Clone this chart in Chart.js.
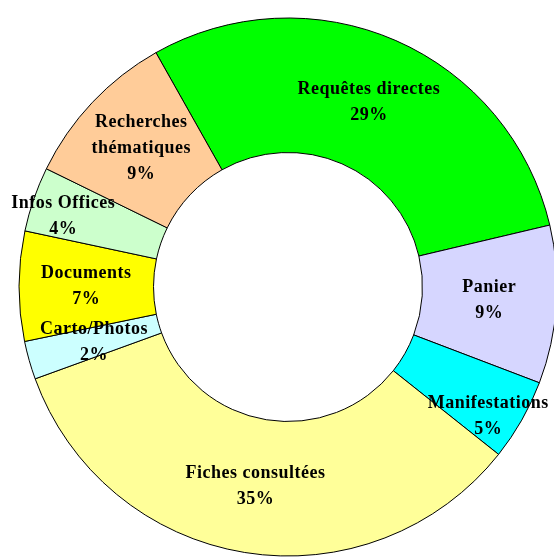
<!DOCTYPE html>
<html>
<head>
<meta charset="utf-8">
<script src="https://cdn.jsdelivr.net/npm/chart.js@4/dist/chart.umd.min.js"></script>
<style>
html,body{margin:0;padding:0;background:#fff;}
#wrap{width:554px;height:558px;position:relative;}
</style>
</head>
<body>
<div id="wrap"><canvas id="myChart"></canvas></div>
<script>
// categories, clockwise from the top
var categories=["Requêtes directes","Panier","Manifestations","Fiches consultées","Carto/Photos","Documents","Infos Offices","Recherches thématiques"];
// share of each slice
var shares=[29.5,9.5,4.9,33.8,2.3,6.6,3.9,9.6];
// percentages as printed on the chart
var percentText=["29%","9%","5%","35%","2%","7%","4%","9%"];
var sliceColors=["#00ff00","#d6d6ff","#00ffff","#ffff99","#ccffff","#ffff00","#ccffcc","#ffcc99"];

// name lines: long names break on two lines
function nameLines(name){
    if(name==="Recherches thématiques") return ["Recherches","thématiques"];
    return [name];
}

var sliceLabels={
    id:"sliceLabels",
    afterDatasetsDraw:function(chart,args,opts){
        var ctx=chart.ctx;
        var meta=chart.getDatasetMeta(0);
        ctx.save();
        ctx.font="bold 18px 'Liberation Serif', 'Times New Roman', serif";
        ctx.letterSpacing="0.5px";
        ctx.fillStyle="#000";
        ctx.textAlign="center";
        ctx.textBaseline="middle";
        meta.data.forEach(function(arc,i){
            var p=arc.getProps(["x","y","startAngle","endAngle","innerRadius","outerRadius"],true);
            var mid=(p.startAngle+p.endAngle)/2;
            var r=(p.innerRadius+p.outerRadius)/2;
            var off=opts.offsets[i]||[0,0];
            var cx=p.x+Math.cos(mid)*r+off[0];
            var cy=p.y+Math.sin(mid)*r+off[1];
            var lines=nameLines(categories[i]).concat([percentText[i]]);
            var lh=26;
            var top=cy-(lines.length-1)*lh/2;
            lines.forEach(function(t,k){
                ctx.fillText(t,cx,top+k*lh);
            });
        });
        ctx.restore();
    }
};

var ctx=document.getElementById("myChart").getContext("2d");
var myChart=new Chart(ctx,{
    type:"doughnut",
    data:{
        labels:categories,
        datasets:[
            {
                data:shares,
                backgroundColor:sliceColors,
                borderColor:"#000",
                borderWidth:1,
                borderAlign:"center",
                clip:false
            },
        ],
    },
    options:{
        responsive:true,
        maintainAspectRatio:false,
        animation:false,
        rotation:-29.4,
        cutout:"50%",
        radius:269,
        layout:{padding:{left:22,right:0,top:16,bottom:0}},
        plugins:{
            legend:{display:false},
            tooltip:{enabled:false},
            // small slices: labels pushed outward like the original
            sliceLabels:{offsets:[null,null,[25,29],null,null,null,[-34,-5],null]}
        }
    },
    plugins:[sliceLabels]
});
</script>
</body>
</html>
